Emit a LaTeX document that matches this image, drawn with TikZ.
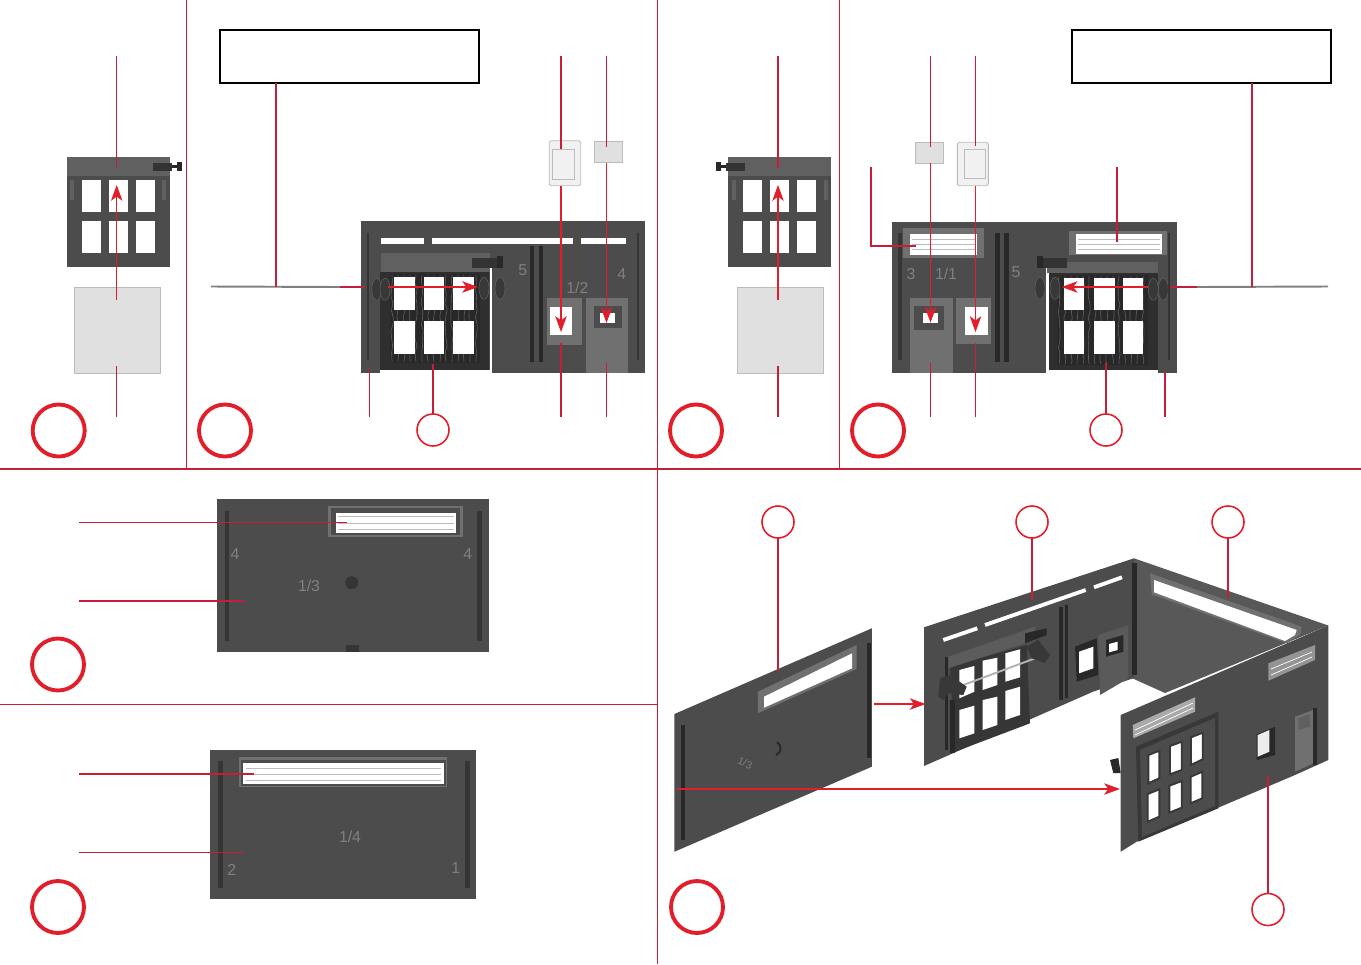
\documentclass[tikz,border=0pt]{standalone}
\usepackage{fontspec}
\setmainfont{Liberation Sans}
\usetikzlibrary{arrows.meta,decorations.pathmorphing}
\definecolor{lineRed}{RGB}{196,30,58}
\definecolor{markRed}{RGB}{226,30,42}
\definecolor{wallGray}{RGB}{76,76,76}
\definecolor{wallDark}{RGB}{40,40,40}
\definecolor{wallSoft}{RGB}{96,96,96}
\definecolor{frameGray}{RGB}{112,112,112}
\definecolor{paneGray}{RGB}{224,224,224}
\definecolor{paneEdge}{RGB}{188,188,188}
\definecolor{stampGray}{RGB}{128,128,128}

\begin{document}
\begin{tikzpicture}[
    x=0.02cm,y=-0.02cm,
    leader/.style={draw=lineRed,line width=0.6pt},
    arrow/.style={leader,draw=markRed,-{Stealth[length=9pt,width=6.5pt,inset=2.4pt,fill=markRed]}},
    bigmark/.style={circle,draw=markRed,line width=2.2pt,minimum size=1.04cm,inner sep=0pt,outer sep=0pt},
    smallmark/.style={circle,draw=markRed,line width=0.9pt,minimum size=0.64cm,inner sep=0pt,outer sep=0pt},
    notebox/.style={draw=black,line width=1.2pt,minimum width=5.18cm,minimum height=1.06cm,inner sep=0pt,outer sep=0pt},
    wall/.style={fill=wallGray},
    groove/.style={fill=wallDark},
    softgroove/.style={fill=wallDark!65!wallGray},
    sash/.style={fill=wallDark},
    frame/.style={fill=frameGray},
    glass/.style={fill=white},
    sheet/.style={fill=paneGray,draw=paneEdge,line width=0.5pt},
    lightsheet/.style={fill=paneGray!45!white,draw=paneEdge,line width=0.5pt},
    wheel/.style={fill=black!78,draw=wallSoft,line width=0.3pt},
    rod/.style={draw=gray,line width=1.1pt},
    stamp/.style={text=stampGray,font=\fontsize{9}{9}\selectfont,inner sep=0pt},
    bark/.style={draw=wallSoft,line width=0.35pt,decorate,decoration={random steps,segment length=4pt,amplitude=0.7pt}},
    vent/.style={draw=paneEdge,line width=0.4pt}
  ]
  \useasboundingbox (0,0) rectangle (1361,964);

  % free ends of the leaders
  \coordinate (legA) at (276,287);
  \coordinate (legB) at (1252,287);
  \coordinate (rodAend) at (340,287);
  \coordinate (rodBend) at (1197,287);

  % page rules
  \coordinate (ruleL) at (0,469);
  \coordinate (ruleR) at (1361,469);
  \coordinate (ruleM) at (0,704.5);
  \draw[leader] (ruleL) -- (ruleR);
  \draw[leader] (ruleM) -- (657.5,704.5);
  \draw[leader] (657.5,0) -- (657.5,964);
  \draw[leader] (186.5,0) -- (186.5,469);
  \draw[leader] (839.5,0) -- (839.5,469);

  % gate leaf and sheet, panels 1 and 3
  \foreach \gx/\gs in {0/1,898/-1}{
    \begin{scope}[shift={(\gx,0)},xscale=\gs]
      \fill[wall] (67,157) rectangle (170,266.5);
      \fill[fill=wallSoft] (67,157) rectangle (170,176);
      \fill[fill=wallDark!70!wallGray] (153,162.5) rectangle (172,171);
      \fill[wallDark] (172,165) rectangle (177,168);
      \fill[wallDark] (177,162) rectangle (182,171);
      \fill[fill=wallSoft] (70,180) rectangle (74,200);
      \fill[fill=wallSoft] (162,180) rectangle (166,200);
      \foreach \cl/\cr in {82/100.7,109.3/128,136.3/155.3}{
        \fill[glass] (\cl,180) rectangle (\cr,211.7);
        \fill[glass] (\cl,220.7) rectangle (\cr,253.3);
      }
      \fill[sheet] (74.3,287.7) rectangle (160.3,373.7);
    \end{scope}
  }

  % panel 2
  \fill[wall] (361,221) rectangle (645,372.5);
  \fill[white] (380,370) rectangle (492.3,373);
  \fill[white] (490.3,268) rectangle (492.3,373);
  \fill[fill=wallSoft] (380.7,253.3) rectangle (490,271.7);
  \fill[wallDark!80!wallGray] (380,271.7) rectangle (489,370);
  \fill[sash] (390,274) rectangle (480,363.3);
  \foreach \bx in {392,398,...,478}{\draw[bark] (\bx,275) -- (\bx,362);}
  \foreach \cl/\cr in {394.3/415.3,424/444.3,453.3/474}{
    \fill[glass] (\cl,276.7) rectangle (\cr,310);
    \fill[glass] (\cl,321.3) rectangle (\cr,354);
  }
  \foreach \sl/\sr in {380.7/424.3,431.7/573.3,580.7/625.7}{\fill[white] (\sl,238.3) rectangle (\sr,243.7);}
  \foreach \wx/\wy in {376.7/289.3,385/289.3,484/288.3,500/288.3}{\fill[wheel] (\wx,\wy) ellipse (5 and 11);}
  \fill[fill=wallDark!70!wallGray] (471.7,258.3) rectangle (496.7,268.3);
  \fill[wallDark] (496.7,256) rectangle (503.3,268.3);
  \fill[groove] (530,245.7) rectangle (534,361.7);
  \fill[groove] (539,245.7) rectangle (543.3,361.7);
  \fill[softgroove] (367,233) rectangle (369.3,360);
  \fill[softgroove] (637,233) rectangle (639,360);
  \fill[frame] (546.7,298.3) rectangle (581.7,345);
  \fill[glass] (550,306.7) rectangle (572.3,335);
  \fill[frame] (585.7,298.3) rectangle (628.3,372.7);
  \fill[wall] (594,306) rectangle (621.7,328.3);
  \fill[glass] (600,312.7) rectangle (615,323.3);
  \fill[lightsheet,rounded corners=1pt] (549.3,140.7) rectangle (580.7,185.7);
  \draw[vent] (552,149) rectangle (574,179);
  \fill[sheet] (594.7,141) rectangle (622.3,162.7);
  \node[stamp] (labFive) at (522.7,270) {5};
  \node[stamp] (labHalf) at (577.3,288) {1/2};
  \node[stamp] (labFour) at (621.7,274) {4};

  % panel 4
  \fill[wall] (892.3,221.7) rectangle (1177.3,372.7);
  \fill[white] (1049,370) rectangle (1157.7,373);
  \fill[white] (1045.7,266.7) rectangle (1049,373);
  \fill[fill=wallSoft] (1046.7,261.7) rectangle (1158.3,273.3);
  \fill[wallDark!80!wallGray] (1049,273) rectangle (1157.7,370);
  \fill[sash] (1056.7,275) rectangle (1148.3,365);
  \foreach \bx in {1059,1065,...,1146}{\draw[bark] (\bx,276) -- (\bx,364);}
  \foreach \cl/\cr in {1064/1084.3,1094/1114.7,1122.7/1143.3}{
    \fill[glass] (\cl,277.7) rectangle (\cr,310);
    \fill[glass] (\cl,321.3) rectangle (\cr,354.3);
  }
  \foreach \wx/\wy in {1153.3/289.3,1163.3/289.3,1055/288.3,1040/288.3}{\fill[wheel] (\wx,\wy) ellipse (5 and 11);}
  \fill[fill=wallDark!70!wallGray] (1041,258.3) rectangle (1066.7,268.3);
  \fill[wallDark] (1036.7,256) rectangle (1043,268);
  \fill[groove] (995,232.7) rectangle (1000,361.7);
  \fill[groove] (1004.3,232.7) rectangle (1009.3,361.7);
  \fill[softgroove] (898,233) rectangle (901.7,360);
  \fill[softgroove] (1168.3,233) rectangle (1170,360);
  \fill[frame] (903.3,228.3) rectangle (984.3,258.3);
  \fill[glass] (910,234.3) rectangle (977.3,255);
  \fill[frame] (1069.3,230.7) rectangle (1166.7,255);
  \fill[glass] (1076,234) rectangle (1161.7,254);
  \foreach \ly in {239,244,249}{
    \draw[vent] (912,\ly) -- (975,\ly);
    \draw[vent] (1078,\ly) -- (1160,\ly);
  }
  \fill[frame] (910,298.3) rectangle (952.7,372.7);
  \fill[wall] (914.3,305.7) rectangle (944,330);
  \fill[glass] (923.3,312.7) rectangle (937.7,323.3);
  \fill[frame] (956,298.3) rectangle (990.7,344);
  \fill[glass] (965.3,306.7) rectangle (988,335.3);
  \fill[sheet] (915.7,142.3) rectangle (943.3,163.3);
  \fill[lightsheet,rounded corners=1pt] (957.3,142.3) rectangle (988.3,185.7);
  \draw[vent] (964,149) rectangle (985,178);
  \node[stamp] (labThree) at (911,274) {3};
  \node[stamp] (labOne) at (946,274) {1/1};
  \node[stamp] (labFiveB) at (1016,271.7) {5};

  % panels 5 and 6, flat walls
  \fill[wall] (216.7,499.3) rectangle (488.7,652);
  \fill[frame] (328.3,505.7) rectangle (462.7,536.7);
  \fill[wall] (331,508) rectangle (460,534.5);
  \fill[glass] (335.7,512.7) rectangle (456,532.7);
  \foreach \ly in {516,523,529}{\draw[vent] (338,\ly) -- (454,\ly);}
  \fill[softgroove] (225,510.7) rectangle (229,640.7);
  \fill[softgroove] (477,510.7) rectangle (481.5,640.7);
  \fill[softgroove] (345.7,645) rectangle (359,652);
  \fill[softgroove] (351.7,582.7) circle (6.5);
  \node[stamp] (labThird) at (309,586) {1/3};
  \node[stamp] (labFourL) at (235,554) {4};
  \node[stamp] (labFourR) at (467.7,554) {4};

  \fill[wall] (210,750) rectangle (476,899);
  \fill[frame] (239.3,757.3) rectangle (447.3,787.3);
  \fill[wall] (241,760) rectangle (445.5,785.5);
  \fill[glass] (242.7,763.3) rectangle (444,784);
  \foreach \ly in {768,774,780}{\draw[vent] (246,\ly) -- (441,\ly);}
  \fill[softgroove] (218,760.7) rectangle (222.7,888.3);
  \fill[softgroove] (465,760.7) rectangle (470,888.3);
  \node[stamp] (labQuart) at (350,836.7) {1/4};
  \node[stamp] (labTwo) at (231.7,870) {2};
  \node[stamp] (labOneR) at (455.7,868) {1};

  % panel 7, loose wall
  \fill[wall] (674.4,714) -- (871.8,628.3) -- (871.8,766.7) -- (674.4,851.7) -- cycle;
  \fill[frame] (757.8,691.7) -- (856.5,645) -- (856.5,669) -- (757.8,713.3) -- cycle;
  \fill[glass] (764,696.7) -- (852,653.3) -- (852,668.3) -- (764,707.7) -- cycle;
  \fill[groove] (680.5,725) rectangle (684.7,840);
  \fill[groove] (867,643) rectangle (871,758);
  \draw[wallDark,line width=1.1pt] (777,742) .. controls (782,746) and (782,752) .. (776,755);
  \node[stamp,rotate=-24,font=\fontsize{6}{6}\selectfont] (labSlant) at (745,763) {1/3};

  % panel 7, corner
  \fill[wallSoft!60!wallGray] (1134,558.3) -- (1328.3,625.5) -- (1165,693) -- (1131.7,678) -- cycle;
  \fill[wall] (924,627.3) -- (1134,558.3) -- (1134,678) -- (1093,691.7) -- (924,766) -- cycle;
  \fill[frame] (1150,573.3) -- (1301.7,626.7) -- (1300,635) -- (1286.7,643.3) -- (1151.7,594.3) -- cycle;
  \fill[glass] (1154,580) -- (1296.7,630) -- (1295,635) -- (1285,641) -- (1154,592.3) -- cycle;
  \fill[groove] (1132,563) rectangle (1137,675);
  \foreach \sa/\sb/\sc/\sd in {943.3/640/977.3/628.3,985/625/1085.7/590,1094/587.3/1122/577.3}{
    \draw[white,line width=2.2pt] (\sa,\sb) -- (\sc,\sd);
  }
  \fill[wallDark!60!wallGray] (950,666.7) -- (1026.7,645) -- (1030,723.3) -- (955,751.7) -- cycle;
  \fill[fill=wallSoft!80!wallGray] (948.3,656.7) -- (1035,626.7) -- (1035,640) -- (948.3,668.3) -- cycle;
  \fill[wallDark] (945,656.7) rectangle (948.3,750);
  \fill[wallDark] (950,700) rectangle (955,753);
  \foreach \pa/\pb/\pc/\pd/\pe/\pf/\pg/\ph in {
    959.3/670/974.3/666/974.3/691.7/959.3/698.3,
    982.7/660.7/997.3/657.7/997.3/685/982.7/690,
    1005.3/653.3/1020/649.3/1020/677.3/1005.3/681.7,
    959.3/710/974.3/705.7/974.3/733.3/959.3/738.3,
    982.7/700/997.3/696.7/997.3/725/982.7/730,
    1005.3/691/1020/686.7/1020/715/1005.3/720}{
    \fill[glass] (\pa,\pb) -- (\pc,\pd) -- (\pe,\pf) -- (\pg,\ph) -- cycle;
  }
  \draw[line width=1.1pt,gray!60] (963.3,685) -- (1035,658.3);
  \fill[black!78] (940,678.3) -- (950,675) -- (966.7,686.7) -- (963.3,695) -- (948.3,693.3) -- (943.3,700) -- (938.3,696.7) -- cycle;
  \fill[black!78] (1026.7,646.7) -- (1038.3,640) -- (1050,655) -- (1045,663.3) -- (1031.7,658.3) -- cycle;
  \fill[wallDark] (1025,633.3) -- (1046.7,628.3) -- (1046.7,635) -- (1025,643.3) -- cycle;
  \fill[groove] (1059.3,606.7) rectangle (1062.7,700);
  \fill[groove] (1065,605) rectangle (1068.3,698);
  \fill[wallDark] (1075,646.7) -- (1096.7,638.3) -- (1098.3,675) -- (1076.7,681.7) -- cycle;
  \fill[glass] (1079,651.7) -- (1093.3,646.7) -- (1093.3,668.3) -- (1079,673.3) -- cycle;
  \fill[fill=wallSoft!70!wallGray] (1098.3,635) -- (1128.3,625) -- (1128.3,678.3) -- (1100,695) -- cycle;
  \fill[wallDark] (1106,640) -- (1123.3,635) -- (1123.3,651.7) -- (1106,656.7) -- cycle;
  \fill[glass] (1109,644) -- (1117.7,641.7) -- (1117.7,650) -- (1109,652.3) -- cycle;

  \fill[wall] (1120.7,715) -- (1328.3,625.5) -- (1328.3,760) -- (1295,775) -- (1216.7,808.3) -- (1136.7,841.7) -- (1120.7,851.7) -- cycle;
  \fill[wallDark] (1110,760) -- (1118.3,758) -- (1120.7,773) -- (1113.3,773) -- cycle;
  \fill[fill=frameGray!75!white] (1268.3,663.3) -- (1315,645) -- (1315,660) -- (1268.3,680.7) -- cycle;
  \draw[vent,draw=white] (1271,669) -- (1312,652);
  \draw[vent,draw=white] (1271,675) -- (1312,657);
  \fill[fill=frameGray!60!white] (1132.7,725) -- (1195,697.3) -- (1195,711.7) -- (1133.3,738.3) -- cycle;
  \draw[vent,draw=white] (1135,730) -- (1193,703);
  \draw[vent,draw=white] (1135,735) -- (1193,708);
  \fill[black!78] (1136,746.7) -- (1218.3,711.7) -- (1218.3,808.3) -- (1138.3,841.7) -- cycle;
  \fill[wall] (1140,750) -- (1215,718) -- (1215,806) -- (1142,837) -- cycle;
  \foreach \pa/\pb/\pc/\pd/\pe/\pf/\pg/\ph in {
    1148.3/755/1159.3/750.7/1159.3/778.3/1148.3/783.3,
    1170/746/1181.7/741.7/1181.7/770/1170/774.3,
    1191/737.3/1202.7/732.7/1202.7/759.3/1191/765,
    1147.7/794/1159.3/789.3/1159.3/816.7/1147.7/821.7,
    1169.3/785.7/1181.7/781/1181.7/807.7/1169.3/812.7,
    1190.7/776.7/1202.3/771.7/1202.3/798.3/1190.7/803.3}{
    \fill[glass,draw=black!78,line width=1.1pt] (\pa,\pb) -- (\pc,\pd) -- (\pe,\pf) -- (\pg,\ph) -- cycle;
  }
  \fill[wallDark] (1256.7,734.3) -- (1275,726.7) -- (1275,755) -- (1256.7,760) -- cycle;
  \fill[fill=paneGray!60!white] (1257.7,735) -- (1269.3,730) -- (1269.3,751.7) -- (1257.7,756.7) -- cycle;
  \fill[fill=frameGray] (1295,716.7) -- (1313.3,710) -- (1313.3,763.3) -- (1295,771.7) -- cycle;
  \fill[wallSoft] (1298.3,718.3) -- (1310,714) -- (1310,726.7) -- (1298.3,730) -- cycle;
  \fill[wallDark] (1313.3,708) rectangle (1316.7,765);

  % number circles and note boxes
  \node[bigmark] (numA) at (58.7,430.5) {};
  \node[bigmark] (numB) at (225,430.5) {};
  \node[bigmark] (numC) at (696,430.5) {};
  \node[bigmark] (numD) at (878,430.5) {};
  \node[bigmark] (numE) at (58,664.5) {};
  \node[bigmark] (numF) at (58,907) {};
  \node[bigmark] (numG) at (697,907) {};
  \node[smallmark] (subA) at (433,430) {};
  \node[smallmark] (subB) at (1106,430) {};
  \node[smallmark] (subC) at (778,522) {};
  \node[smallmark] (subD) at (1032,522) {};
  \node[smallmark] (subE) at (1228,522) {};
  \node[smallmark] (subF) at (1268,909.5) {};
  \node[notebox] (noteA) at (349.5,56.5) {};
  \node[notebox] (noteB) at (1201.5,56.5) {};

  % rods
  \coordinate (rodAfree) at (211,286.5);
  \coordinate (rodBfree) at (1328,286.5);
  \draw[rod] (rodAfree) -- (rodAend);
  \draw[rod] (rodBend) -- (rodBfree);

  % panel 1 leaders
  \draw[leader] (116.7,56) -- (116.7,168);
  \draw[arrow] (116.7,300) -- (116.7,185);
  \draw[leader] (116.7,366) -- (116.7,417);
  % panel 3 leaders
  \draw[leader] (778,56) -- (778,168);
  \draw[arrow] (778,300) -- (778,185);
  \draw[leader] (778,366) -- (778,417);
  % panel 2 leaders
  \draw[leader] (noteA.south -| legA) -- (legA);
  \draw[leader] (rodAend) -- (365,287);
  \draw[arrow] (388,287) -- (478,287);
  \draw[leader] (561,56) -- (561,149);
  \draw[arrow] (561,185.7) -- (561,332);
  \draw[leader] (561,343) -- (561,417);
  \draw[leader] (606.5,56) -- (606.5,147);
  \draw[arrow] (606.5,163) -- (606.5,323);
  \draw[leader] (606.5,363) -- (606.5,417);
  \draw[leader] (369.5,368) -- (369.5,417);
  \draw[leader] (433,364) -- (subA);
  % panel 4 leaders
  \draw[leader] (noteB.south -| legB) -- (legB);
  \draw[leader] (rodBend) -- (1170,287);
  \draw[arrow] (1147.7,287) -- (1061.7,287);
  \draw[leader] (930.5,56) -- (930.5,147);
  \draw[arrow] (930.5,163.3) -- (930.5,322.7);
  \draw[leader] (930.5,363) -- (930.5,417);
  \draw[leader] (975.5,56) -- (975.5,146);
  \draw[arrow] (975.5,186) -- (975.5,332);
  \draw[leader] (975.5,343) -- (975.5,417);
  \draw[leader] (871,167) -- (871,246) -- (916,246);
  \draw[leader] (1117,167) -- (1117,241.7);
  \draw[leader] (1106,363) -- (subB);
  \draw[leader] (1165,371.7) -- (1165,417);
  % panels 5 and 6 leaders
  \draw[leader] (79,522.3) -- (346.7,522.3);
  \draw[leader] (79,601) -- (244.3,601);
  \draw[leader] (79,774) -- (254,774);
  \draw[leader] (79,852.7) -- (244,852.7);
  % panel 7 leaders
  \draw[leader] (subC) -- (778,670.7);
  \draw[leader] (subD) -- (1032,600);
  \draw[leader] (subE) -- (1228,598);
  \draw[leader] (subF) -- (1268,776);
  \draw[arrow] (874.4,704) -- (925.6,704);
  \draw[arrow] (677,789) -- (1119.9,789);
\end{tikzpicture}
\end{document}
